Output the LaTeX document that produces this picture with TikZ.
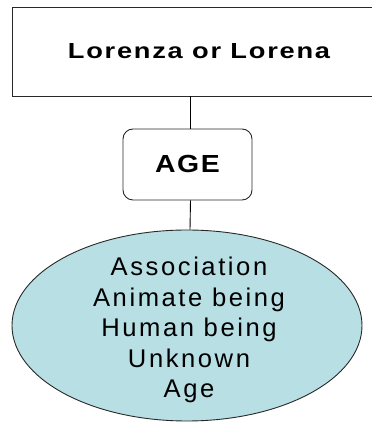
\documentclass[tikz,border=0pt]{standalone}
\usepackage{fontspec}
\setmainfont{Liberation Sans}
\newfontfamily\namefont[FakeStretch=1.25,LetterSpace=8]{Liberation Sans}
\newfontfamily\agefont[FakeStretch=1.15,LetterSpace=6]{Liberation Sans}
\newfontfamily\featfont[LetterSpace=10]{Liberation Sans}
\usetikzlibrary{shapes.geometric}
\definecolor{featblue}{RGB}{184,223,227}
\definecolor{edge}{RGB}{40,40,40}

\begin{document}
\begin{tikzpicture}[x=1pt,y=1pt,
    box/.style={draw=edge,line width=0.9pt,fill=white},
    link/.style={draw=black,line width=0.9pt}]
      \useasboundingbox (0,0) rectangle (372,423);
      % word
      \node [box,minimum width=374pt,minimum height=89pt,font=\namefont\bfseries\fontsize{21.8}{26}\selectfont] (name) at (199,371.5) {Lorenza or Lorena};
      % category
      \node [box,rounded corners=10pt,minimum width=129pt,minimum height=71pt,font=\agefont\bfseries\fontsize{24.7}{29}\selectfont] (age) at (187.5,258.5) {AGE};
      % features
      \node [ellipse,draw=edge,line width=0.9pt,fill=featblue,minimum width=350pt,minimum height=191pt] (feat) at (187,97.5) {};
      \node [align=center,font=\featfont\fontsize{25.6}{30.5}\selectfont] (featlist) at (189,93) {Association\\Animate being\\Human being\\Unknown\\Age};

      % links
      \draw [link] ([xshift=3pt]age.north |- name.south) -- ([xshift=3pt]age.north);
      \draw [link] ([xshift=3pt]age.south) -- ([xshift=3pt]feat.north);
    \end{tikzpicture}
\end{document}
